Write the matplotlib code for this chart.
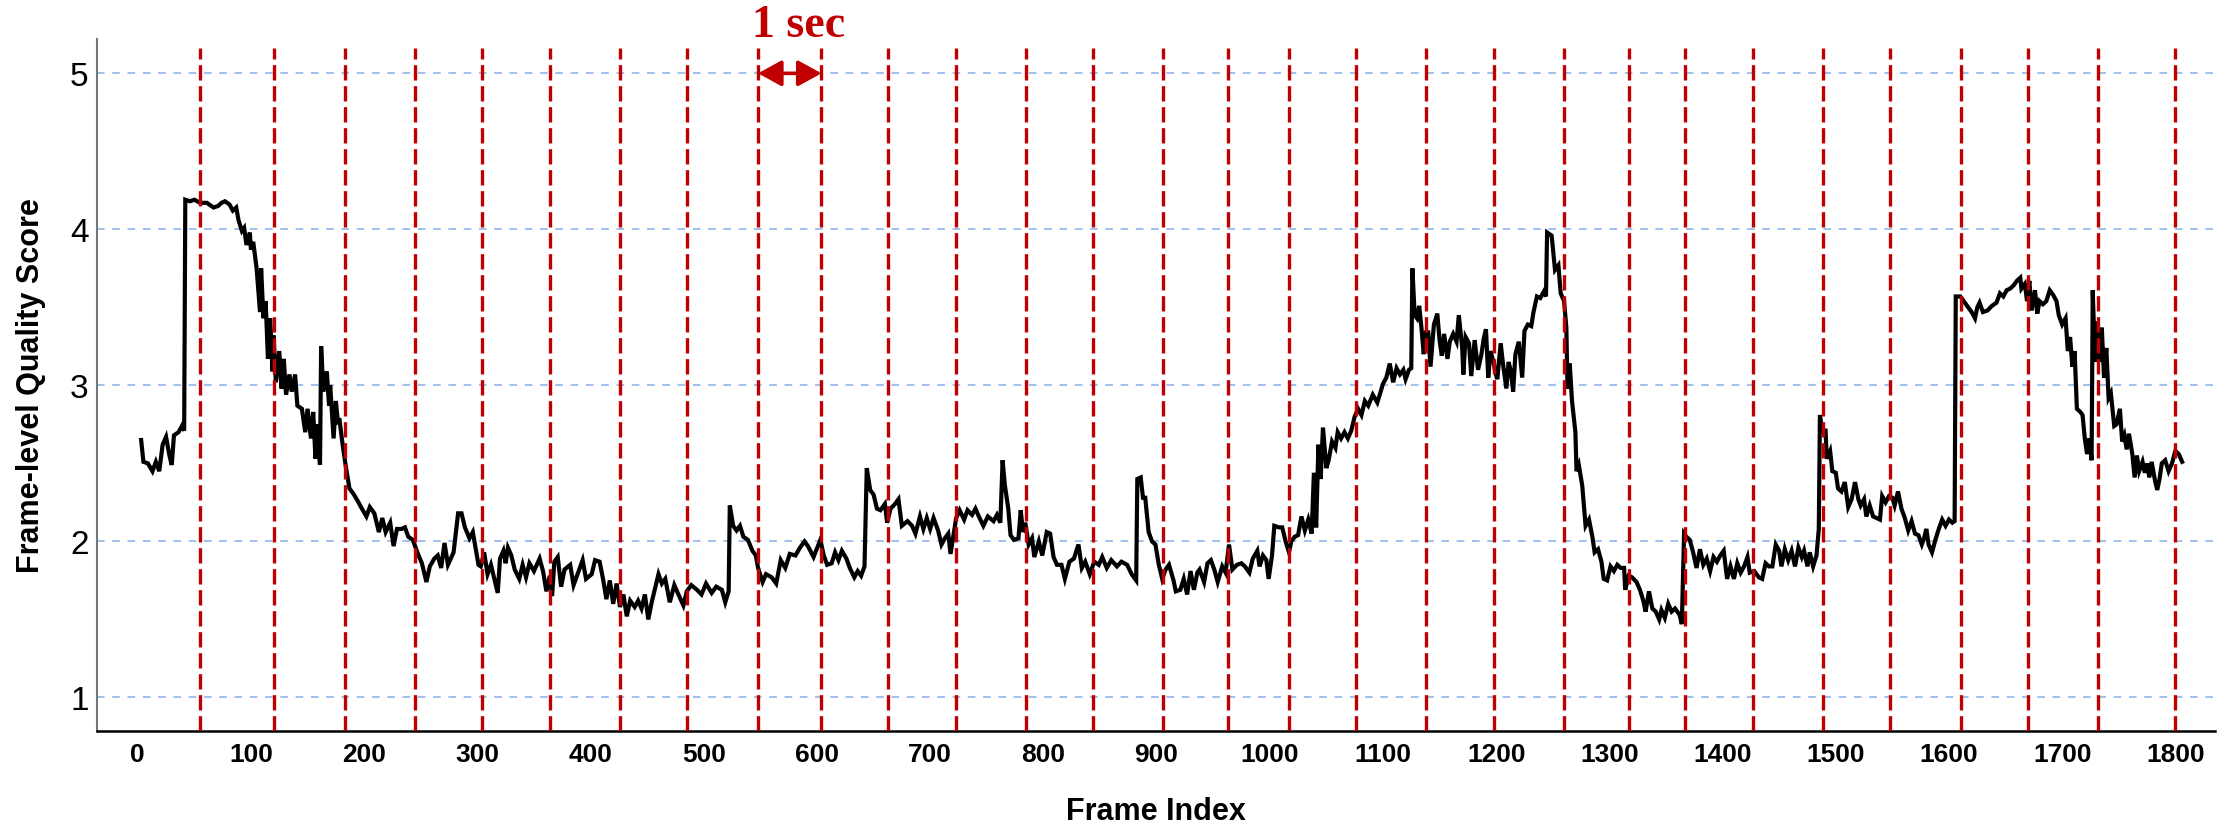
import matplotlib
matplotlib.use("Agg")
import matplotlib.pyplot as plt
import numpy as np

# ---------------- data ----------------
frames_a = [3, 5, 9, 13, 16, 19, 22, 25, 28, 30, 32, 36, 39, 41, 42, 46, 50, 55, 61, 67, 71, 74, 77, 81, 84, 87, 89, 92,
            94, 96, 99, 100, 102, 105, 108, 109, 111, 113, 115, 117, 119, 120, 122, 125, 127, 129, 131, 134, 136, 139,
            141, 145, 148, 150, 153, 155, 157, 158, 161, 162, 164, 167, 169, 170, 173, 175, 177, 178, 181, 184, 187,
            191, 195, 198, 202, 205, 209, 213, 216, 219, 223, 226, 229, 233, 236, 239, 243, 247, 251, 255, 258, 262,
            265, 268, 271, 274, 279, 283, 286, 289, 293, 296, 301]
scores_a = [2.65, 2.51, 2.50, 2.45, 2.51, 2.45, 2.62, 2.67, 2.55, 2.49, 2.68, 2.70, 2.74, 2.71, 4.19, 4.18, 4.19, 4.17,
            4.17, 4.14, 4.15, 4.17, 4.18, 4.16, 4.12, 4.14, 4.06, 3.99, 4.01, 3.90, 3.98, 3.87, 3.92, 3.75, 3.47, 3.75,
            3.43, 3.54, 3.17, 3.43, 3.09, 3.32, 3.02, 3.22, 2.98, 3.17, 2.94, 3.07, 2.96, 3.07, 2.87, 2.85, 2.70, 2.85,
            2.66, 2.83, 2.53, 2.75, 2.49, 3.25, 2.96, 3.09, 2.87, 3.00, 2.66, 2.90, 2.75, 2.79, 2.62, 2.47, 2.34, 2.30,
            2.25, 2.21, 2.16, 2.22, 2.18, 2.06, 2.15, 2.06, 2.12, 1.97, 2.08, 2.08, 2.09, 2.03, 2.01, 1.93, 1.86, 1.74,
            1.84, 1.89, 1.91, 1.83, 1.99, 1.85, 1.93, 2.18, 2.18, 2.09, 2.02, 2.06, 1.85]

frames_b = [303, 306, 309, 312, 315, 318, 320, 323, 325, 327, 330, 333, 337, 340, 343, 346, 350, 355, 358, 361, 364, 366,
            368, 371, 374, 377, 382, 385, 388, 393, 396, 401, 404, 408, 411, 414, 417, 420, 423, 426, 429, 432, 435,
            439, 442, 445, 448, 451, 454, 457, 460, 463, 466, 470, 474, 477, 482, 485, 489, 494, 498, 502, 507, 511,
            516, 519, 522, 523, 526, 529, 532, 535, 539, 543, 546, 548, 552, 555, 560, 564, 568, 572, 576, 581, 585,
            589, 592, 597]
scores_b = [1.84, 1.93, 1.79, 1.85, 1.76, 1.67, 1.89, 1.94, 1.86, 1.96, 1.91, 1.82, 1.76, 1.85, 1.77, 1.86, 1.81, 1.89,
            1.81, 1.68, 1.78, 1.65, 1.87, 1.90, 1.71, 1.82, 1.85, 1.72, 1.78, 1.88, 1.76, 1.79, 1.88, 1.87, 1.76, 1.63,
            1.75, 1.60, 1.73, 1.58, 1.66, 1.52, 1.62, 1.58, 1.62, 1.57, 1.66, 1.50, 1.61, 1.70, 1.79, 1.73, 1.76, 1.61,
            1.72, 1.67, 1.59, 1.68, 1.72, 1.69, 1.66, 1.73, 1.67, 1.71, 1.69, 1.61, 1.68, 2.23, 2.10, 2.07, 2.10, 2.03,
            2.01, 1.94, 1.91, 1.83, 1.74, 1.79, 1.77, 1.73, 1.88, 1.83, 1.92, 1.91, 1.96, 2.00, 1.97, 1.90]

frames_c = [603, 606, 609, 613, 616, 619, 622, 626, 629, 633, 636, 639, 642, 644, 647, 650, 653, 656, 660, 662, 665, 669,
            672, 675, 680, 684, 687, 691, 694, 697, 700, 703, 707, 710, 713, 716, 718, 721, 723, 726, 730, 733, 737,
            740, 743, 747, 751, 756, 759, 762, 764, 766, 769, 771, 774, 778, 780, 782, 784, 787, 790, 792, 796, 799,
            803, 806, 809, 812, 816, 819, 823, 827, 831, 834, 837, 841, 845, 849, 852, 856, 860, 865, 869, 874, 878,
            880, 882, 883, 886, 888, 890, 893, 896, 899, 902, 905]
scores_c = [2.01, 1.91, 1.85, 1.86, 1.93, 1.88, 1.94, 1.89, 1.83, 1.77, 1.81, 1.78, 1.84, 2.47, 2.33, 2.30, 2.21, 2.20,
            2.24, 2.12, 2.21, 2.24, 2.27, 2.10, 2.13, 2.10, 2.05, 2.16, 2.08, 2.15, 2.08, 2.15, 2.07, 1.98, 2.02, 2.05,
            1.92, 2.06, 2.15, 2.20, 2.14, 2.20, 2.17, 2.21, 2.16, 2.10, 2.16, 2.13, 2.17, 2.12, 2.52, 2.36, 2.21, 2.04,
            2.01, 2.02, 2.20, 2.06, 2.12, 1.98, 2.02, 1.90, 2.00, 1.91, 2.06, 2.05, 1.90, 1.85, 1.85, 1.76, 1.87, 1.89,
            1.98, 1.83, 1.87, 1.79, 1.87, 1.85, 1.90, 1.83, 1.88, 1.84, 1.87, 1.85, 1.79, 1.77, 1.75, 2.40, 2.41, 2.28,
            2.28, 2.06, 2.00, 1.98, 1.85, 1.76]

frames_d = [908, 911, 915, 917, 921, 924, 927, 930, 933, 936, 938, 942, 945, 948, 951, 954, 958, 961, 964, 967, 971, 975,
            978, 982, 985, 989, 991, 994, 997, 999, 1002, 1004, 1008, 1011, 1014, 1017, 1019, 1022, 1025, 1028, 1031,
            1034, 1037, 1039, 1041, 1043, 1045, 1047, 1050, 1052, 1055, 1058, 1060, 1063, 1066, 1069, 1072, 1075,
            1078, 1081, 1084, 1087, 1091, 1095, 1098, 1100, 1103, 1106, 1109, 1112, 1115, 1118, 1120, 1123, 1125,
            1126, 1128, 1130, 1132, 1134, 1136, 1138, 1140, 1142, 1145, 1148, 1150, 1152, 1154, 1157, 1159, 1162,
            1165, 1167, 1170, 1171, 1173, 1176, 1178, 1181, 1184, 1187, 1189, 1191, 1193, 1195, 1198]
scores_d = [1.82, 1.85, 1.75, 1.68, 1.69, 1.76, 1.66, 1.81, 1.69, 1.80, 1.82, 1.74, 1.86, 1.88, 1.82, 1.74, 1.84, 1.80,
            1.98, 1.82, 1.85, 1.86, 1.84, 1.80, 1.89, 1.94, 1.84, 1.91, 1.88, 1.76, 1.91, 2.10, 2.09, 2.09, 2.00, 1.93,
            2.00, 2.03, 2.04, 2.16, 2.07, 2.14, 2.05, 2.44, 2.09, 2.62, 2.40, 2.73, 2.47, 2.52, 2.64, 2.60, 2.70, 2.66,
            2.70, 2.66, 2.71, 2.80, 2.85, 2.81, 2.90, 2.87, 2.94, 2.89, 2.96, 3.01, 3.05, 3.14, 3.02, 3.11, 3.07, 3.10,
            3.04, 3.10, 3.11, 3.75, 3.45, 3.43, 3.51, 3.37, 3.20, 3.34, 3.34, 3.12, 3.39, 3.46, 3.29, 3.19, 3.33, 3.17,
            3.28, 3.33, 3.28, 3.45, 3.24, 3.07, 3.31, 3.27, 3.06, 3.29, 3.10, 3.20, 3.30, 3.36, 3.05, 3.22, 3.14]

frames_e = [1199, 1201, 1204, 1206, 1209, 1211, 1213, 1215, 1217, 1220, 1223, 1225, 1228, 1231, 1233, 1236, 1239, 1242,
            1244, 1245, 1249, 1252, 1255, 1257, 1260, 1262, 1263, 1265, 1267, 1270, 1271, 1273, 1276, 1279, 1282,
            1285, 1287, 1290, 1293, 1295, 1298, 1301, 1304, 1307, 1310, 1313, 1314, 1317, 1320, 1324, 1327, 1330,
            1332, 1335, 1338, 1341, 1344, 1346, 1349, 1352, 1355, 1358, 1362, 1364, 1366, 1368, 1371, 1374, 1377,
            1380, 1383, 1386, 1389, 1392, 1395, 1398, 1401, 1404, 1407, 1410, 1413, 1416, 1419, 1422, 1424, 1428,
            1432, 1435, 1438, 1441, 1444, 1447, 1450, 1452, 1455, 1458, 1461, 1464, 1467, 1470, 1472, 1475, 1477,
            1480, 1483, 1485, 1486, 1488, 1491, 1492, 1495, 1497]
scores_e = [3.09, 3.04, 3.27, 3.14, 2.98, 3.15, 3.09, 2.96, 3.20, 3.28, 3.05, 3.35, 3.39, 3.38, 3.47, 3.57, 3.56, 3.60,
            3.57, 3.98, 3.96, 3.74, 3.77, 3.59, 3.54, 3.37, 2.98, 3.14, 2.90, 2.70, 2.45, 2.49, 2.36, 2.10, 2.14, 2.03,
            1.93, 1.95, 1.87, 1.76, 1.75, 1.84, 1.81, 1.85, 1.83, 1.83, 1.69, 1.78, 1.77, 1.74, 1.69, 1.62, 1.55, 1.68,
            1.57, 1.55, 1.50, 1.56, 1.51, 1.60, 1.55, 1.57, 1.53, 1.47, 2.05, 2.03, 2.01, 1.93, 1.83, 1.95, 1.85, 1.89,
            1.81, 1.90, 1.87, 1.91, 1.94, 1.76, 1.84, 1.76, 1.86, 1.80, 1.84, 1.90, 1.80, 1.81, 1.77, 1.76, 1.86, 1.84,
            1.84, 1.98, 1.94, 1.84, 1.95, 1.88, 1.94, 1.84, 1.96, 1.90, 1.94, 1.84, 1.93, 1.84, 1.91, 2.08, 2.81, 2.71,
            2.71, 2.53, 2.58, 2.45]

frames_f = [1500, 1502, 1505, 1508, 1511, 1514, 1517, 1520, 1522, 1525, 1527, 1530, 1533, 1536, 1539, 1541, 1544, 1547,
            1550, 1552, 1555, 1558, 1561, 1564, 1567, 1570, 1573, 1576, 1578, 1580, 1582, 1585, 1588, 1591, 1594,
            1597, 1600, 1603, 1605, 1606, 1610, 1613, 1616, 1620, 1623, 1625, 1627, 1630, 1634, 1638, 1642, 1645,
            1648, 1651, 1654, 1657, 1660, 1663, 1664, 1667, 1669, 1671, 1673, 1676, 1678, 1680, 1683, 1686, 1689,
            1692, 1695, 1697, 1700, 1703, 1705, 1707, 1709, 1711, 1713, 1716, 1718, 1720, 1722, 1724, 1726, 1727,
            1729, 1731, 1733, 1735, 1737, 1739, 1741, 1743, 1746, 1748, 1751, 1753, 1755, 1757, 1759, 1762, 1764,
            1766, 1768, 1771, 1773, 1775, 1777, 1779, 1782, 1784, 1786, 1788, 1791, 1794, 1797, 1800, 1803, 1806]
scores_f = [2.44, 2.34, 2.32, 2.38, 2.22, 2.27, 2.38, 2.27, 2.23, 2.27, 2.16, 2.23, 2.16, 2.15, 2.14, 2.29, 2.25, 2.29,
            2.28, 2.23, 2.32, 2.21, 2.15, 2.07, 2.13, 2.05, 2.04, 1.98, 2.02, 2.08, 1.98, 1.93, 2.01, 2.08, 2.14, 2.10,
            2.14, 2.12, 2.13, 3.57, 3.57, 3.54, 3.51, 3.47, 3.43, 3.50, 3.53, 3.47, 3.48, 3.51, 3.53, 3.59, 3.57, 3.61,
            3.62, 3.64, 3.67, 3.69, 3.62, 3.65, 3.54, 3.67, 3.48, 3.61, 3.46, 3.54, 3.52, 3.54, 3.61, 3.58, 3.54, 3.45,
            3.39, 3.43, 3.22, 3.31, 3.12, 3.22, 2.85, 2.83, 2.81, 2.66, 2.56, 2.66, 2.52, 3.61, 3.15, 3.41, 3.15, 3.37,
            3.05, 3.24, 2.92, 2.95, 2.74, 2.75, 2.85, 2.64, 2.68, 2.59, 2.69, 2.56, 2.41, 2.55, 2.45, 2.51, 2.44, 2.50,
            2.41, 2.51, 2.39, 2.33, 2.40, 2.50, 2.52, 2.45, 2.50, 2.58, 2.56, 2.51]

# one-second boundaries (frame index of each red dashed line)
second_marks = [55, 120, 183, 245, 304, 364, 426, 485, 548, 604, 663, 723, 785, 844, 906, 963, 1017, 1076, 1138,
                1198, 1260, 1317, 1367, 1427, 1489, 1548, 1611, 1670, 1732, 1800]

x_ticks = list(range(0, 1801, 100))
y_ticks = [1, 2, 3, 4, 5]
sec_label = "1 sec"
sec_span = (548, 604)

frames = frames_a + frames_b + frames_c + frames_d + frames_e + frames_f
scores = scores_a + scores_b + scores_c + scores_d + scores_e + scores_f

# ---------------- figure ----------------
RED = "#C00000"
BLUE = "#86B0E6"
SANS = ["Liberation Sans", "DejaVu Sans"]
SERIF = ["Liberation Serif", "DejaVu Serif"]

fig = plt.figure(figsize=(22.34, 8.28), dpi=100)
ax = fig.add_axes([0.04342, 0.11594, 0.94807, 0.83575])

ax.set_xlim(-36, 1835)
ax.set_ylim(0.785, 5.22)

# horizontal light blue dashed grid
for yv in y_ticks:
    ax.axhline(yv, color=BLUE, lw=1.1, linestyle=(0, (5, 5)), zorder=1)

# score curve
ax.plot(frames, scores, color="black", lw=3.0, zorder=2, solid_joinstyle="miter")

# red dashed second boundaries
ax.vlines(second_marks, 0.785, 5.16, colors=RED, lw=2.4, linestyles=[(0, (4.6, 1.7))], zorder=3)

# "1 sec" annotation
ax.annotate("", xy=(sec_span[0], 5.0), xytext=(sec_span[1], 5.0),
            arrowprops=dict(arrowstyle="<|-|>,head_length=0.6,head_width=0.33", color=RED, lw=2.6,
                            shrinkA=0, shrinkB=0, mutation_scale=24), zorder=4)
ax.text(sum(sec_span) / 2 + 8, 5.24, sec_label, ha="center", va="baseline", color=RED,
        fontsize=33, fontweight="bold", family=SERIF, clip_on=False)

# axes styling
for s in ["top", "right"]:
    ax.spines[s].set_visible(False)
ax.spines["left"].set_color("#777777")
ax.spines["left"].set_linewidth(1.5)
ax.spines["bottom"].set_color("black")
ax.spines["bottom"].set_linewidth(1.8)

ax.set_xticks(x_ticks)
ax.set_yticks(y_ticks)
ax.set_xticklabels([str(t) for t in x_ticks], fontsize=19, fontweight="bold", family=SANS)
ax.set_yticklabels([str(t) for t in y_ticks], fontsize=24, family=SANS)
ax.tick_params(axis="x", length=0, pad=8)
ax.tick_params(axis="y", length=0, pad=6)

ax.set_xlabel("Frame Index", fontsize=22, fontweight="bold", family=SANS)
ax.set_ylabel("Frame-level Quality Score", fontsize=22, fontweight="bold", family=SANS)
ax.xaxis.set_label_coords(0.5, -0.1156)
ax.xaxis.label.set_va("center")
ax.yaxis.set_label_coords(-0.0312, 0.5)
ax.yaxis.label.set_va("center")

fig.savefig("out.png", dpi=100)
